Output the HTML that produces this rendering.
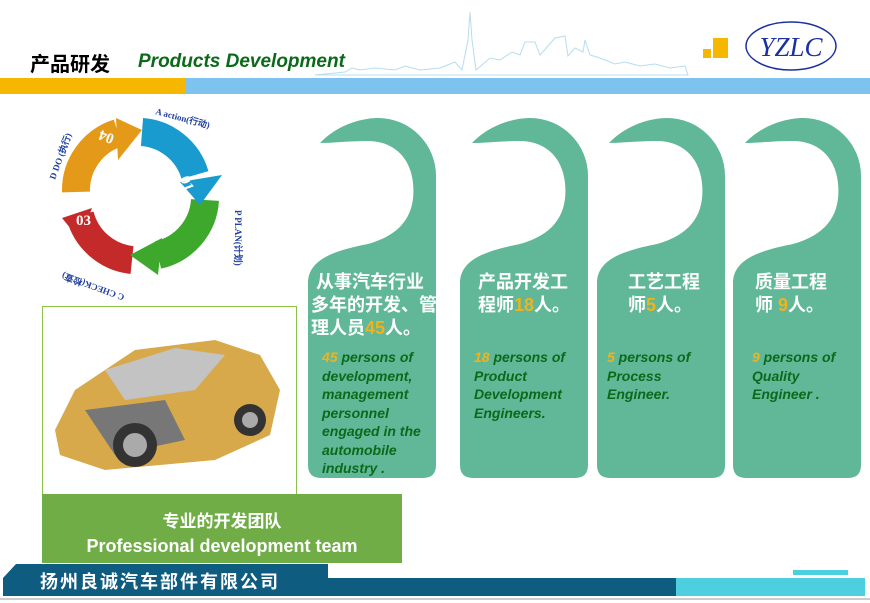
<!DOCTYPE html>
<html><head><meta charset="utf-8"><style>
body{margin:0;width:870px;height:603px;overflow:hidden;background:#fff;position:relative;font-family:"Liberation Sans","Noto Sans CJK SC",sans-serif}
.a{position:absolute}
.cn{color:#fff;font-weight:bold;font-size:18px;line-height:23px}
.en{color:#0b6a1a;font-weight:bold;font-style:italic;font-size:14px;line-height:18.5px}
.y{color:#f2b21c}
</style></head><body>
<div class="a" style="left:30px;top:48px;font-size:20px;font-weight:bold;color:#000">产品研发</div>
<div class="a" style="left:138px;top:51px;font-size:19px;font-weight:bold;font-style:italic;color:#0b6a1a">Products Development</div>
<svg class="a" style="left:0;top:0" width="870" height="100">
<path d="M315 75 L345 72 L352 68 L360 70 L375 68 L395 70 L405 66 L420 70 L440 68 L455 62 L462 70 L468 40 L470 12 L472 40 L476 70 L490 58 L500 60 L512 52 L520 55 L525 42 L535 42 L540 55 L548 46 L555 38 L565 36 L568 56 L575 48 L583 52 L585 40 L590 55 L600 58 L615 64 L625 62 L640 66 L655 64 L670 68 L685 66 L688 75 Z" fill="none" stroke="#b8dcef" stroke-width="1"/>
<rect x="0" y="78" width="186" height="16" fill="#f6b700"/>
<rect x="186" y="78" width="684" height="16" fill="#7dc3ee"/>
<rect x="713" y="38" width="15" height="20" fill="#f6b700"/>
<rect x="703" y="49" width="8" height="9" fill="#f6b700"/>
<ellipse cx="791" cy="46" rx="45" ry="24" fill="none" stroke="#1a2fa0" stroke-width="1.5"/>
<text x="791" y="56" text-anchor="middle" font-family="Liberation Serif" font-style="italic" font-size="27" fill="#1a2fa0">YZLC</text>
</svg>
<svg class="a" style="left:30px;top:100px" width="230" height="200">
<g fill="none" stroke-width="28">
<path d="M112 32 A60 60 0 0 1 165 75" stroke="#1a9bd0"/>
<path d="M175 100 A60 60 0 0 1 128 155" stroke="#3ea82d"/>
<path d="M102 160 A60 60 0 0 1 50 115" stroke="#c42a2a"/>
<path d="M46 92 A60 60 0 0 1 88 33" stroke="#e49a18"/>
</g>
<polygon points="150,82 192,75 170,105" fill="#1a9bd0"/>
<polygon points="132,138 128,175 100,155" fill="#3ea82d"/>
<polygon points="62,108 32,118 50,140" fill="#c42a2a"/>
<polygon points="86,18 112,30 88,60" fill="#e49a18"/>
<g font-family="Liberation Serif" font-weight="bold" fill="#fff" font-size="15">
<text x="150" y="78" transform="rotate(70 150 78)">01</text>
<text x="128" y="140" transform="rotate(-90 128 140)">02</text>
<text x="46" y="125">03</text>
<text x="85" y="35" transform="rotate(200 85 35)">04</text>
</g>
<g font-family="Liberation Serif" font-size="9" fill="#2040a0" font-weight="bold">
<text x="125" y="14" transform="rotate(15 125 14)">A action(行动)</text>
<text x="205" y="110" transform="rotate(90 205 110)">P PLAN(计划)</text>
<text x="95" y="195" transform="rotate(200 95 195)">C CHECK(检查)</text>
<text x="25" y="80" transform="rotate(-70 25 80)">D DO (执行)</text>
</g>
</svg>
<div class="a" style="left:42px;top:306px;width:253px;height:188px;border:1px solid #8bc34a;background:#fff"></div>
<svg class="a" style="left:45px;top:320px" width="250" height="170">
<path d="M10 110 L30 70 L90 30 L170 20 L215 35 L235 70 L225 115 L170 140 L60 150 L15 135 Z" fill="#d7a94a"/>
<path d="M60 50 L130 28 L180 35 L150 70 L80 80 Z" fill="#c3c3c3"/>
<path d="M40 90 L120 80 L140 120 L70 135 Z" fill="#777"/>
<circle cx="90" cy="125" r="22" fill="#333"/><circle cx="90" cy="125" r="12" fill="#aaa"/>
<circle cx="205" cy="100" r="16" fill="#333"/><circle cx="205" cy="100" r="8" fill="#aaa"/>
</svg>
<div class="a" style="left:42px;top:494px;width:360px;height:69px;background:#70ad47;color:#fff;font-weight:bold;text-align:center">
<div style="font-size:17px;margin-top:13px">专业的开发团队</div>
<div style="font-size:18px;margin-top:4px">Professional development team</div></div>
<svg class="a" style="left:0;top:0" width="870" height="603">
<defs><path id="h" d="M12 25 C30 6 55 0 70 0 A58 58 0 0 1 128 58 L128 347 Q128 360 115 360 L13 360 Q0 360 0 347 L0 165 C0 140 30 132 60 126 C95 116 108 95 105 65 C102 36 82 23 60 23 C40 23 25 25 12 25 Z" fill="#60b898"/></defs>
<use href="#h" x="308" y="118"/><use href="#h" x="460" y="118"/><use href="#h" x="597" y="118"/><use href="#h" x="733" y="118"/>
</svg>
<div class="a cn" style="left:311px;top:271px">&nbsp;从事汽车行业<br>多年的开发、管<br>理人员<span class="y">45</span>人。</div>
<div class="a en" style="left:322px;top:348px"><span class="y">45</span> persons of<br>development,<br>management<br>personnel<br>engaged in the<br>automobile<br>industry <span>.</span></div>
<div class="a cn" style="left:478px;top:271px">产品开发工<br>程师<span class="y">18</span>人。</div>
<div class="a en" style="left:474px;top:348px"><span class="y">18</span> persons of<br>Product<br>Development<br>Engineers.</div>
<div class="a cn" style="left:628px;top:271px">工艺工程<br>师<span class="y">5</span>人。</div>
<div class="a en" style="left:607px;top:348px"><span class="y">5</span> persons of<br>Process<br>Engineer.</div>
<div class="a cn" style="left:755px;top:271px">质量工程<br>师 <span class="y">9</span>人。</div>
<div class="a en" style="left:752px;top:348px"><span class="y">9</span> persons of<br>Quality<br>Engineer .</div>
<svg class="a" style="left:0;top:560px" width="870" height="43">
<polygon points="3,18 16,4 328,4 328,18" fill="#0e5c80"/>
<rect x="3" y="18" width="675" height="18" fill="#0e5c80"/>
<rect x="676" y="18" width="189" height="18" fill="#4ecfe0"/>
<rect x="793" y="10" width="55" height="5" fill="#4ecfe0"/>
<rect x="0" y="38" width="870" height="2" fill="#ccc"/>
</svg>
<div class="a" style="left:40px;top:568px;color:#fff;font-weight:bold;font-size:18px;letter-spacing:2px">扬州良诚汽车部件有限公司</div>
</body></html>
